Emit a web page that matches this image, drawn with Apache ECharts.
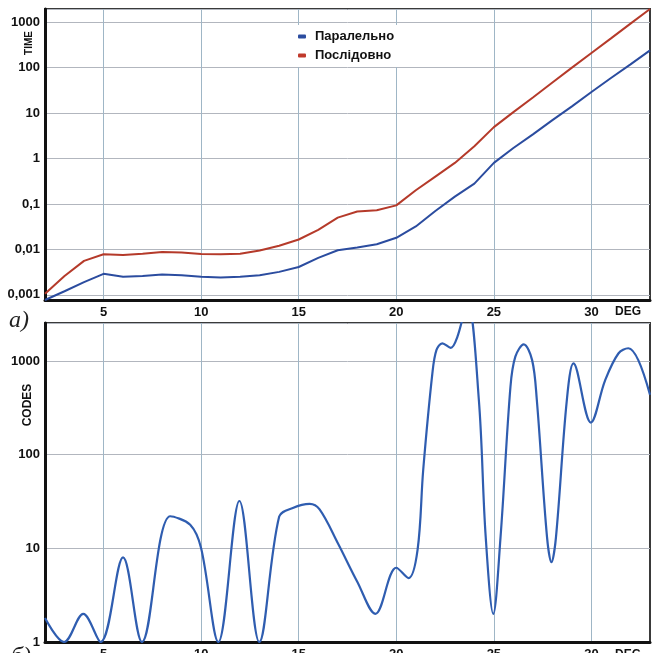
<!DOCTYPE html>
<html>
<head>
<meta charset="utf-8">
<script src="https://cdn.jsdelivr.net/npm/echarts@6/dist/echarts.min.js"></script>
<style>
html,body{margin:0;padding:0;background:#fff;overflow:hidden;}
#chart{width:652px;height:653px;}
</style>
</head>
<body>
<div id="chart"></div>
<script>
// ---- data ----
const degrees = [2,3,4,5,6,7,8,9,10,11,12,13,14,15,16,17,18,19,20,21,22,23,24,25,26,27,28,29,30,31,32,33];
const timeParallel = [0.00077,0.0012,0.0019,0.0029,0.0025,0.0026,0.0028,0.0027,0.0025,0.0024,0.0025,0.0027,0.0032,0.0041,0.0065,0.0096,0.011,0.013,0.018,0.032,0.07,0.145,0.28,0.8,1.7,3.4,7,14,29,59,118,240];
const timeSequential = [0.00106,0.0026,0.0056,0.0078,0.0075,0.008,0.0088,0.0085,0.0079,0.0078,0.008,0.0095,0.012,0.0165,0.027,0.05,0.068,0.073,0.093,0.2,0.4,0.8,1.86,4.9,10.5,22,47,100,210,440,930,1950];
const codesDeg = [2,2.98,3.96,4.85,6.0,6.97,8.42,9.44,10.0,10.88,11.96,12.98,14.0,14.7,15.56,16.07,17.0,18.0,18.93,20.0,20.63,21.09,21.38,21.85,22.06,22.36,22.79,23.13,23.65,24.23,24.58,24.97,25.34,25.85,26.1,26.53,26.96,27.2,27.72,27.95,28.18,28.74,29.08,29.97,30.7,31.38,31.89,32.4,33];
const codesValues = [1.8,1.0,2.0,1.0,8.0,1.0,22,17.8,10,1.0,32,1.0,21.8,27,29.8,26,11.4,4.4,2.0,6.2,4.8,9.6,69,740,1310,1540,1380,1810,4200,385,13.4,2.0,13,530,1110,1500,1020,385,13.4,7.1,13,385,940,220,620,1200,1365,1020,435];
const xTickValues = [5,10,15,20,25,30];
const seriesNames = ['Паралельно','Послідовно'];

const FONT = '"Liberation Sans", Arial, sans-serif';
const gridV = '#9fb6c6';
const gridH = '#b2b6be';

function logLabel(v){
  const l = Math.log10(v);
  if (Math.abs(l - Math.round(l)) > 1e-6) return '';
  const r = Math.round(l);
  return r >= 0 ? String(Math.pow(10, r)) : ('0,' + '0'.repeat(-r-1) + '1');
}

function xAxisCfg(gridIndex){
  return {
    type:'value', gridIndex, min:2, max:33,
    axisLine:{show:true, onZero:false, lineStyle:{color:'#111', width:3}},
    axisTick:{show:false, customValues:xTickValues},
    axisLabel:{customValues:xTickValues, margin:6, color:'#111', fontFamily:FONT, fontWeight:'bold', fontSize:13},
    splitLine:{show:true, lineStyle:{color:gridV, width:1}}
  };
}
function yAxisCfg(gridIndex, min, max){
  return {
    type:'log', logBase:10, gridIndex, min, max,
    axisLine:{show:true, lineStyle:{color:'#111', width:3}},
    axisTick:{show:false},
    axisLabel:{formatter:logLabel, margin:5, color:'#111', fontFamily:FONT, fontWeight:'bold', fontSize:13},
    splitLine:{show:true, lineStyle:{color:gridH, width:1}}
  };
}

const chart = echarts.init(document.getElementById('chart'), null, {renderer:'canvas'});
chart.setOption({
  backgroundColor:'#fff',
  animation:false,
  grid:[
    {left:45, right:2, top:9, height:291, outerBoundsMode:'none', containLabel:false, show:true, borderColor:'#3a3a3a', borderWidth:2, backgroundColor:'transparent'},
    {left:45, right:2, top:323, height:319, outerBoundsMode:'none', containLabel:false, show:true, borderColor:'#3a3a3a', borderWidth:2, backgroundColor:'transparent'}
  ],
  xAxis:[xAxisCfg(0), xAxisCfg(1)],
  yAxis:[yAxisCfg(0, 0.00077, 1950), yAxisCfg(1, 1, 2540)],
  legend:{
    data:seriesNames, orient:'vertical', left:290, top:25,
    backgroundColor:'#fff', padding:[5,8,5,8],
    itemWidth:8, itemHeight:4, itemGap:6, icon:'roundRect',
    textStyle:{color:'#111', fontFamily:FONT, fontWeight:'bold', fontSize:13, padding:[0,0,0,4]}
  },
  series:[
    {name:seriesNames[0], type:'line', xAxisIndex:0, yAxisIndex:0, showSymbol:false, symbol:'none',
     data:degrees.map((d,i)=>[d,timeParallel[i]]), lineStyle:{color:'#2b4c9f', width:2}, itemStyle:{color:'#2b4c9f'}, z:3},
    {name:seriesNames[1], type:'line', xAxisIndex:0, yAxisIndex:0, showSymbol:false, symbol:'none',
     data:degrees.map((d,i)=>[d,timeSequential[i]]), lineStyle:{color:'#b53a2a', width:2}, itemStyle:{color:'#c0392b'}, z:3},
    {name:'CODES', type:'line', xAxisIndex:1, yAxisIndex:1, showSymbol:false, symbol:'none', smooth:0.35,
     data:codesDeg.map((d,i)=>[d,codesValues[i]]), lineStyle:{color:'#2f5db0', width:2.2}, itemStyle:{color:'#2f5db0'}, z:3}
  ],
  graphic:[
    {type:'text', x:29, y:43, rotation:Math.PI/2, style:{text:'TIME', fill:'#111', font:'bold 10px '+FONT, textAlign:'center', textVerticalAlign:'middle'}},
    {type:'text', x:28, y:405, rotation:Math.PI/2, style:{text:'CODES', fill:'#111', font:'bold 12px '+FONT, textAlign:'center', textVerticalAlign:'middle'}},
    {type:'text', x:628, y:312, style:{text:'DEG', fill:'#111', font:'bold 12px '+FONT, textAlign:'center', textVerticalAlign:'middle'}},
    {type:'text', x:628, y:655, style:{text:'DEG', fill:'#111', font:'bold 12px '+FONT, textAlign:'center', textVerticalAlign:'middle'}},
    {type:'text', x:19, y:321, style:{text:'a)', fill:'#222', font:'italic 24px "Liberation Serif", "Times New Roman", serif', textAlign:'center', textVerticalAlign:'middle'}},
    {type:'text', x:21, y:657, style:{text:'б)', fill:'#222', font:'italic 24px "Liberation Serif", "Times New Roman", serif', textAlign:'center', textVerticalAlign:'middle'}}
  ]
});
</script>
</body>
</html>
